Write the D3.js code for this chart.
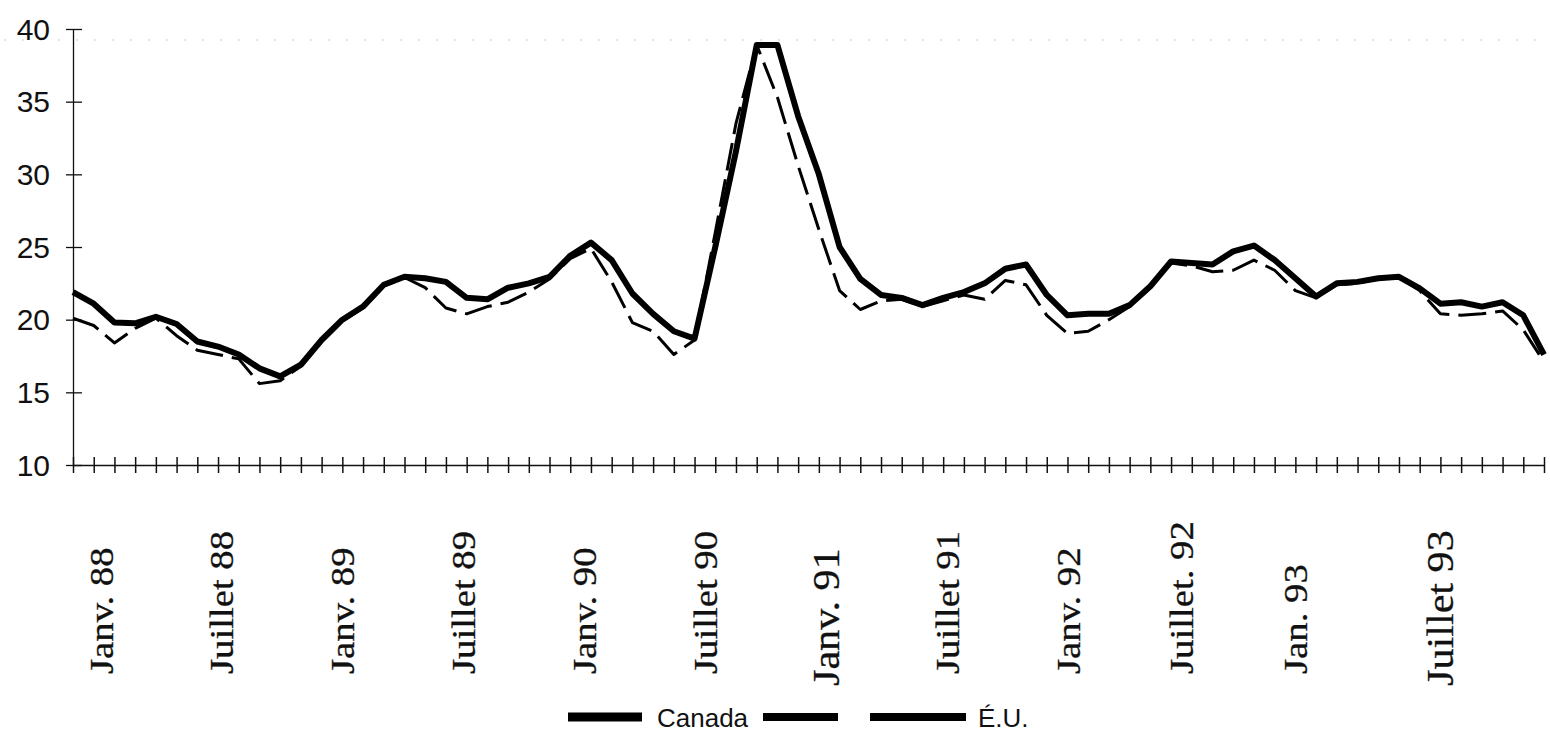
<!DOCTYPE html>
<html lang="fr">
<head>
<meta charset="utf-8">
<title>Canada et É.U.</title>
<script src="https://cdn.jsdelivr.net/npm/d3@7/dist/d3.min.js"></script>
<style>
  html, body { margin: 0; padding: 0; background: #fff; }
  svg { display: block; }
</style>
</head>
<body>
<svg id="chart" width="1550" height="747"></svg>
<script>
// Monthly series, January 1988 through December 1993
const months = [];
for (let yr = 1988; yr <= 1993; yr++) {
  for (let m = 1; m <= 12; m++) months.push(yr + "-" + String(m).padStart(2, "0"));
}

const canada = [
  21.9, 21.1, 19.8, 19.75, 20.2, 19.7, 18.5, 18.15, 17.6, 16.65, 16.1, 16.9,
  18.6, 20.0, 20.9, 22.4, 22.95, 22.85, 22.6, 21.5, 21.4, 22.2, 22.5, 22.95,
  24.4, 25.3, 24.1, 21.8, 20.4, 19.2, 18.7, 25.0, 31.6, 38.9, 38.9, 34.0,
  30.0, 25.0, 22.8, 21.7, 21.5, 21.0, 21.5, 21.9, 22.5, 23.5, 23.8, 21.7,
  20.3, 20.4, 20.4, 21.0, 22.3, 24.0, 23.9, 23.8, 24.7, 25.1, 24.1, 22.85,
  21.6, 22.5, 22.6, 22.85, 22.95, 22.15, 21.1, 21.2, 20.9, 21.2, 20.3, 17.6
];

const etatsUnis = [
  20.1, 19.6, 18.4, 19.4, 20.1, 18.9, 17.9, 17.6, 17.3, 15.6, 15.8, 16.8,
  18.5, 19.9, 20.8, 22.3, 22.9, 22.2, 20.8, 20.4, 20.9, 21.2, 21.9, 22.8,
  24.2, 24.9, 22.6, 19.8, 19.2, 17.6, 18.6, 26.0, 33.5, 38.9, 35.3, 30.6,
  26.2, 22.0, 20.7, 21.3, 21.4, 20.9, 21.3, 21.7, 21.4, 22.7, 22.4, 20.3,
  19.05, 19.2, 20.0, 20.9, 22.2, 23.9, 23.7, 23.3, 23.4, 24.1, 23.4, 22.0,
  21.5, 22.4, 22.5, 22.8, 22.9, 22.0, 20.4, 20.3, 20.4, 20.6, 19.3, 17.1
];

const yTicks = [10, 15, 20, 25, 30, 35, 40];

const xLabelMonths = [0, 6, 12, 18, 24, 30, 36, 42, 48, 54, 60, 66];
const xLabels = [
  "Janv. 88", "Juillet 88", "Janv. 89", "Juillet 89", "Janv. 90", "Juillet 90",
  "Janv. 91", "Juillet 91", "Janv. 92", "Juillet. 92", "Jan. 93", "Juillet 93"
];

const legendNames = ["Canada", "É.U."];

// ---- layout ----
const svg = d3.select("#chart");
const plotLeft = 73, plotRight = 1544, plotTop = 29, plotBottom = 465;

const x = d3.scaleLinear().domain([0, months.length - 1]).range([plotLeft, plotRight]);
const y = d3.scaleLinear().domain([10, 40]).range([plotBottom, plotTop]);

// the month captions sit slightly off the tick grid
const labelX = d3.scaleLinear().domain([0, 48, 60, 66]).range([101, 1068, 1295, 1440]);

// faint dotted rule along the top
svg.append("line")
  .attr("x1", 4).attr("x2", 1540).attr("y1", 40).attr("y2", 40)
  .attr("stroke", "#a8a8a8").attr("stroke-width", 1)
  .attr("stroke-dasharray", "2 16").attr("opacity", 0.6);

// y axis
const yAxis = svg.append("g")
  .attr("transform", `translate(${plotLeft},0)`)
  .call(d3.axisLeft(y).tickValues(yTicks).tickSize(0).tickPadding(0));
yAxis.select(".domain").attr("stroke", "#111").attr("stroke-width", 1.3);
yAxis.selectAll(".tick line")
  .attr("x1", -7).attr("x2", 9)
  .attr("stroke", "#111").attr("stroke-width", 1.3);
yAxis.selectAll(".tick text")
  .attr("x", -23).attr("dy", "0.34em")
  .attr("fill", "#111")
  .style("font-family", "'Liberation Sans', Arial, sans-serif")
  .style("font-size", "30px");

// x axis: one tick per month, crossing the axis line
const xAxis = svg.append("g")
  .attr("transform", `translate(0,${plotBottom})`)
  .call(d3.axisBottom(x).tickValues(d3.range(months.length)).tickFormat("").tickSize(0));
xAxis.select(".domain").attr("stroke", "#111").attr("stroke-width", 1.6);
xAxis.selectAll(".tick line")
  .attr("y1", -8).attr("y2", 8)
  .attr("stroke", "#111").attr("stroke-width", 1.5);

// rotated month captions (a wide serif face, stretched along the text)
const bigLabels = new Set(["Janv. 91", "Juillet 93"]);
svg.append("g").selectAll("text")
  .data(xLabelMonths.map((m, i) => ({ m, t: xLabels[i] })))
  .join("text")
  .attr("transform", d =>
    `translate(${labelX(d.m)},${bigLabels.has(d.t) ? 686 : 674}) rotate(-90) scale(1.14,1)`)
  .attr("dy", "0.34em")
  .attr("text-anchor", "start")
  .attr("fill", "#111")
  .attr("stroke", "#111").attr("stroke-width", 0.3)
  .style("font-family", "'Liberation Serif', 'Times New Roman', serif")
  .style("font-size", d => bigLabels.has(d.t) ? "37px" : "34px")
  .text(d => d.t);

// series lines
const line = d3.line().x((d, i) => x(i)).y(d => y(d));

svg.append("path")
  .datum(etatsUnis)
  .attr("fill", "none")
  .attr("stroke", "#000")
  .attr("stroke-width", 3)
  .attr("stroke-dasharray", "28 9")
  .attr("stroke-linejoin", "round")
  .attr("d", line);

svg.append("path")
  .datum(canada)
  .attr("fill", "none")
  .attr("stroke", "#000")
  .attr("stroke-width", 6)
  .attr("stroke-linejoin", "round")
  .attr("d", line);

// legend
const lg = svg.append("g");
lg.append("rect")
  .attr("x", 568).attr("y", 712.5).attr("width", 74).attr("height", 9)
  .attr("fill", "#000");
lg.append("text")
  .attr("x", 657).attr("y", 727)
  .attr("fill", "#111")
  .style("font-family", "'Liberation Sans', Arial, sans-serif")
  .style("font-size", "26px")
  .text(legendNames[0]);
lg.selectAll("rect.eu")
  .data([[763, 838], [870, 966]])
  .join("rect")
  .attr("class", "eu")
  .attr("x", d => d[0]).attr("y", 713).attr("width", d => d[1] - d[0]).attr("height", 8)
  .attr("fill", "#000");
lg.append("text")
  .attr("x", 978).attr("y", 727)
  .attr("fill", "#111")
  .style("font-family", "'Liberation Sans', Arial, sans-serif")
  .style("font-size", "26px")
  .text(legendNames[1]);
</script>
</body>
</html>
